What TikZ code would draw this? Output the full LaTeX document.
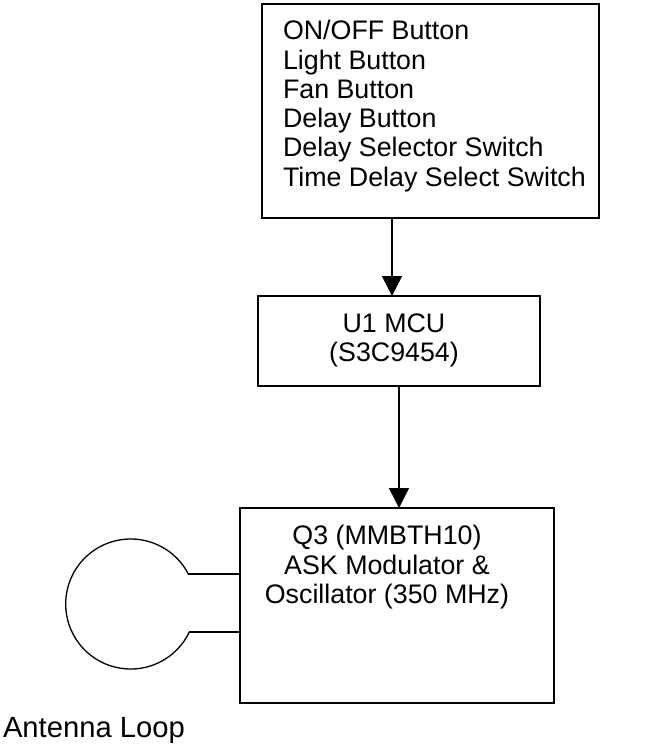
\documentclass[tikz,border=0pt]{standalone}
\usepackage{fontspec}
\setmainfont{Liberation Sans}
\usetikzlibrary{arrows.meta}
\begin{document}
\begin{tikzpicture}[x=1pt, y=-1pt,
  box/.style={draw, line width=1.5pt, inner sep=0pt, outer sep=0pt, anchor=north west},
  txt/.style={font=\fontsize{26.8}{29.3}\selectfont, inner sep=0pt, outer sep=0pt},
  flow/.style={line width=1.5pt, -{Triangle[width=20pt,length=20pt]}},
  wire/.style={line width=1.3pt}]
\useasboundingbox (0,0) rectangle (648,745);

% input controls
\node[box, minimum width=337pt, minimum height=214pt] (inputs) at (262,4) {};
\node[txt, align=left, anchor=north west] (inputstext) at (283,20.3)
  {ON/OFF Button\\Light Button\\Fan Button\\Delay Button\\Delay Selector Switch\\Time Delay Select Switch};

% microcontroller
\node[box, minimum width=282pt, minimum height=90pt] (mcu) at (258,296) {};
\node[txt, align=center, anchor=north] (mcutext) at (394,313.6) {U1 MCU\\(S3C9454)};

% transmitter stage
\node[box, minimum width=314pt, minimum height=195pt] (q3) at (240,508) {};
\node[txt, align=center, anchor=north] (q3text) at (387,525.3)
  {Q3 (MMBTH10)\\ASK Modulator \&\\Oscillator (350 MHz)};

% signal flow
\coordinate (a1) at (392,0);
\draw[flow] (inputs.south -| a1) -- (mcu.north -| a1);
\draw[flow] (mcu.south) -- (mcu.south |- q3.north);

% antenna loop
\coordinate (loop) at (130.7,604);
\path (loop) ++(27.5:65pt) coordinate (lt);
\path (loop) ++(-25.5:65pt) coordinate (lb);
\draw[wire] (lt) -- (lt -| q3.west);
\draw[wire] (lb) -- (lb -| q3.west);
\draw[wire] (lt) arc[start angle=27.5, end angle=334.5, radius=65pt];
\node[txt, font=\fontsize{29.2}{32}\selectfont, anchor=base west] (antlabel) at (3,737) {Antenna Loop};
\end{tikzpicture}
\end{document}
